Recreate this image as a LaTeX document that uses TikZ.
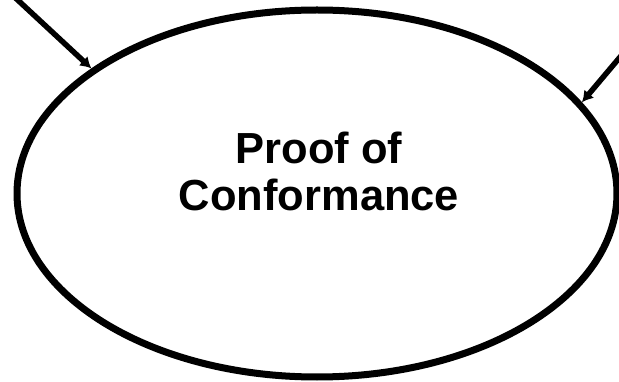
\documentclass[tikz,border=0pt]{standalone}
\usepackage{fontspec}
\setmainfont{Liberation Sans}
\usetikzlibrary{shapes.geometric,arrows.meta}

\tikzset{
  confellipse/.style={ellipse,draw,line width=7pt,minimum width=600pt,
    minimum height=367pt,inner sep=0pt},
  conftext/.style={align=center,font=\fontsize{43.5}{47}\selectfont\bfseries},
  feedarrow/.style={-{Latex[length=11pt,width=13pt]},line width=5.5pt}
}

\begin{document}
\begin{tikzpicture}[x=1pt,y=-1pt,line join=round]
        \clip (0,0) rectangle (619,382);

        \node[confellipse] (proof) at (317,193.5) {};
        \node[conftext] (prooflabel) at (319,171) {Proof of\\Conformance};

        \coordinate (leftfrom) at (-6,-22);
        \coordinate (rightfrom) at (642,31);
        \draw[feedarrow] (leftfrom) -- (proof.151);
        \draw[feedarrow] (rightfrom) -- (proof.19);
    \end{tikzpicture}
\end{document}
